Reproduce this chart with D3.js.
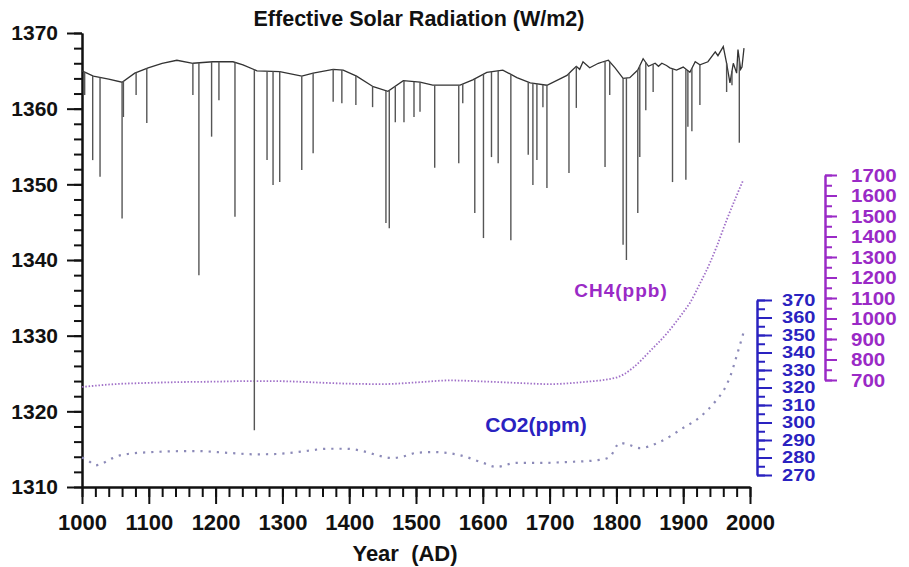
<!DOCTYPE html>
<html>
<head>
<meta charset="utf-8">
<script src="https://cdn.jsdelivr.net/npm/d3@7"></script>
<style>
body { margin: 0; background: #fff; }
text { font-family: "Liberation Sans", Arial, sans-serif; font-weight: bold; }
</style>
</head>
<body>
<svg id="paper"></svg>
<script>
// values
let envYears = [1000, 1017, 1040, 1060, 1079, 1099, 1120, 1142, 1166, 1196, 1226, 1241, 1262, 1296, 1329, 1346, 1376, 1391, 1411, 1436, 1458, 1481, 1506, 1525, 1566, 1585, 1606, 1630, 1651, 1671, 1696, 1726, 1733, 1740, 1745, 1750, 1760, 1773, 1780, 1788, 1798, 1810, 1820, 1832, 1840, 1848, 1858, 1863, 1868, 1875, 1880, 1890, 1900, 1910, 1918, 1925, 1937, 1948, 1952, 1960, 1965, 1970, 1975, 1980, 1982, 1986, 1988, 1991];
let envValues = [1365.0, 1364.3, 1363.9, 1363.5, 1364.7, 1365.4, 1366.0, 1366.4, 1366.0, 1366.2, 1366.2, 1365.8, 1365.0, 1364.9, 1364.3, 1364.7, 1365.2, 1365.1, 1364.3, 1362.9, 1362.3, 1363.7, 1363.5, 1363.1, 1363.1, 1363.8, 1364.8, 1365.1, 1364.1, 1363.4, 1363.1, 1364.4, 1365.0, 1365.6, 1365.2, 1366.2, 1365.4, 1366.0, 1366.2, 1366.4, 1365.4, 1364.0, 1364.1, 1365.1, 1366.6, 1365.6, 1366.0, 1365.6, 1366.0, 1365.7, 1365.4, 1365.1, 1365.5, 1364.8, 1366.2, 1365.8, 1366.2, 1367.5, 1367.0, 1368.2, 1366.0, 1363.4, 1366.0, 1364.7, 1367.8, 1365.2, 1365.5, 1368.0];

// volcanic dips: year and lowest value
let spikeYears = [1004, 1016, 1027, 1060, 1062, 1081, 1097, 1166, 1175, 1194, 1205, 1229, 1258, 1277, 1286, 1296, 1329, 1346, 1376, 1389, 1410, 1435, 1455, 1460, 1469, 1482, 1497, 1506, 1528, 1564, 1570, 1588, 1601, 1613, 1623, 1642, 1668, 1675, 1681, 1690, 1696, 1729, 1740, 1783, 1790, 1810, 1815, 1832, 1835, 1844, 1855, 1884, 1904, 1907, 1913, 1925, 1965, 1973, 1984];
let spikeMins = [1361.8, 1353.2, 1351.0, 1345.5, 1358.9, 1361.8, 1358.1, 1361.8, 1338.0, 1356.3, 1361.1, 1345.7, 1317.5, 1353.2, 1349.9, 1350.3, 1351.9, 1354.1, 1360.9, 1360.7, 1360.5, 1360.2, 1344.9, 1344.2, 1358.2, 1358.2, 1358.9, 1359.6, 1352.2, 1352.8, 1360.7, 1346.2, 1342.9, 1353.6, 1352.8, 1342.6, 1353.9, 1349.9, 1353.2, 1360.2, 1349.5, 1351.5, 1360.1, 1352.3, 1361.8, 1342.0, 1340.0, 1346.2, 1353.6, 1359.8, 1362.2, 1350.3, 1350.6, 1357.6, 1357.0, 1360.5, 1362.2, 1363.1, 1355.5];

let ch4Years = [1000, 1050, 1100, 1150, 1200, 1250, 1300, 1350, 1400, 1450, 1500, 1550, 1600, 1650, 1700, 1750, 1800, 1825, 1850, 1876, 1900, 1910, 1925, 1940, 1950, 1965, 1980, 1990];
let ch4Values = [666, 680, 686, 690, 692, 695, 694, 688, 682, 680, 688, 698, 693, 686, 680, 690, 712, 760, 840, 929, 1030, 1076, 1170, 1271, 1350, 1480, 1600, 1676];

let co2Years = [1000, 1010, 1020, 1030, 1045, 1060, 1100, 1170, 1220, 1260, 1290, 1320, 1370, 1395, 1420, 1445, 1465, 1480, 1500, 1525, 1565, 1600, 1620, 1650, 1685, 1725, 1775, 1790, 1805, 1820, 1835, 1865, 1900, 1925, 1950, 1960, 1970, 1980, 1990];
let co2Values = [280, 278, 275.5, 276.5, 279.5, 281.5, 283, 283.7, 282.6, 281.8, 282, 283, 285, 285, 283.7, 281, 279.7, 280.5, 282.6, 283.1, 281.4, 277, 274.6, 276.9, 276.9, 277.4, 278.6, 280.3, 288.3, 287.1, 285.4, 288.9, 296.9, 303.1, 312.9, 318, 326, 338, 351];

let yearTicks = [1000, 1100, 1200, 1300, 1400, 1500, 1600, 1700, 1800, 1900, 2000];
let solarTicks = [1310, 1320, 1330, 1340, 1350, 1360, 1370];
let ch4Ticks = [700, 800, 900, 1000, 1100, 1200, 1300, 1400, 1500, 1600, 1700];
let co2Ticks = [270, 280, 290, 300, 310, 320, 330, 340, 350, 360, 370];

let width = 909, height = 567;
let ch4Color = "#9a2ac6", co2Color = "#2a22c0";

let svg = d3.select("#paper").attr("width", width).attr("height", height);

let x = d3.scaleLinear().domain([1000, 2000]).range([82, 750]);
let y = d3.scaleLinear().domain([1310, 1370]).range([487, 33]);
let yCH4 = d3.scaleLinear().domain([700, 1700]).range([380, 175]);
let yCO2 = d3.scaleLinear().domain([270, 370]).range([475, 300]);

function styleAxis(g, color, size) {
    g.attr("font-family", "'Liberation Sans', Arial, sans-serif")
        .attr("font-weight", "bold")
        .attr("font-size", size);
    g.selectAll(".domain").attr("stroke", color).attr("stroke-width", 2);
    g.selectAll(".tick line").attr("stroke", color).attr("stroke-width", 2);
    g.selectAll(".tick text").attr("fill", color);
}

// minor ticks first
svg.append("g").attr("transform", "translate(0,487)")
    .call(d3.axisBottom(x).tickValues(d3.range(1000, 2001, 20)).tickSize(10).tickSizeOuter(0).tickFormat(""))
    .call(g => styleAxis(g, "#111", 22));
svg.append("g").attr("transform", "translate(82,0)")
    .call(d3.axisLeft(y).tickValues(d3.range(1310, 1371, 2)).tickSize(8).tickSizeOuter(0).tickFormat(""))
    .call(g => styleAxis(g, "#111", 21));
svg.append("g").attr("transform", "translate(825,0)")
    .call(d3.axisRight(yCH4).tickValues(d3.range(700, 1701, 50)).tickSize(7).tickSizeOuter(0).tickFormat(""))
    .call(g => styleAxis(g, ch4Color, 19));
svg.append("g").attr("transform", "translate(757,0)")
    .call(d3.axisRight(yCO2).tickValues(d3.range(270, 371, 5)).tickSize(8).tickSizeOuter(0).tickFormat(""))
    .call(g => styleAxis(g, co2Color, 17));

// major ticks with labels
svg.append("g").attr("transform", "translate(0,487)")
    .call(d3.axisBottom(x).tickValues(yearTicks).tickSize(17).tickPadding(10).tickSizeOuter(0).tickFormat(d3.format("d")))
    .call(g => styleAxis(g, "#111", 22));
svg.append("g").attr("transform", "translate(82,0)")
    .call(d3.axisLeft(y).tickValues(solarTicks).tickSize(15).tickPadding(9).tickSizeOuter(0).tickFormat(d3.format("d")))
    .call(g => styleAxis(g, "#111", 21));
svg.append("g").attr("transform", "translate(825,0)")
    .call(d3.axisRight(yCH4).tickValues(ch4Ticks).tickSize(12).tickPadding(14).tickSizeOuter(0).tickFormat(d3.format("d")))
    .call(g => styleAxis(g, ch4Color, 19))
    .call(g => g.selectAll(".tick text").attr("x", 0).attr("transform", "translate(26,0) scale(1.08,1)"));
svg.append("g").attr("transform", "translate(757,0)")
    .call(d3.axisRight(yCO2).tickValues(co2Ticks).tickSize(15).tickPadding(10).tickSizeOuter(0).tickFormat(d3.format("d")))
    .call(g => styleAxis(g, co2Color, 17))
    .call(g => g.selectAll(".tick text").attr("x", 0).attr("transform", "translate(25,0) scale(1.18,1)"));

// gas concentration curves
let ch4Line = d3.line().x(d => x(d[0])).y(d => yCH4(d[1])).curve(d3.curveMonotoneX);
svg.append("path")
    .datum(d3.zip(ch4Years, ch4Values))
    .attr("d", ch4Line)
    .attr("fill", "none")
    .attr("stroke", "#a070c8")
    .attr("stroke-width", 1.8)
    .attr("stroke-dasharray", "1.5,1.8");

let co2Line = d3.line().x(d => x(d[0])).y(d => yCO2(d[1])).curve(d3.curveMonotoneX);
svg.append("path")
    .datum(d3.zip(co2Years, co2Values))
    .attr("d", co2Line)
    .attr("fill", "none")
    .attr("stroke", "#8c8ab8")
    .attr("stroke-width", 2.2)
    .attr("stroke-dasharray", "2.2,6");

// solar radiation envelope
let envData = d3.zip(envYears, envValues);
svg.append("path")
    .datum(envData)
    .attr("d", d3.line().x(d => x(d[0])).y(d => y(d[1])))
    .attr("fill", "none")
    .attr("stroke", "#333")
    .attr("stroke-width", 1.3);

// dips hang down from the envelope
let bisect = d3.bisector(d => d[0]).left;
function envAt(yr) {
    let i = Math.max(1, Math.min(envData.length - 1, bisect(envData, yr)));
    let a = envData[i - 1], b = envData[i];
    return a[1] + (b[1] - a[1]) * (yr - a[0]) / (b[0] - a[0]);
}
svg.append("g").selectAll("line")
    .data(d3.zip(spikeYears, spikeMins))
    .enter()
    .append("line")
    .attr("x1", d => x(d[0]))
    .attr("x2", d => x(d[0]))
    .attr("y1", d => y(envAt(d[0])))
    .attr("y2", d => y(d[1]))
    .attr("stroke", "#555")
    .attr("stroke-width", 1.4);

// titles and labels
svg.append("text")
    .attr("x", 419).attr("y", 26)
    .attr("text-anchor", "middle")
    .attr("font-size", 21.5)
    .attr("fill", "#111")
    .text("Effective Solar Radiation (W/m2)");

svg.append("text")
    .attr("x", 405).attr("y", 561)
    .attr("text-anchor", "middle")
    .attr("font-size", 22)
    .attr("fill", "#111")
    .attr("xml:space", "preserve")
    .text("Year  (AD)");

svg.append("text")
    .attr("x", 621).attr("y", 297)
    .attr("text-anchor", "middle")
    .attr("font-size", 19)
    .attr("letter-spacing", 1)
    .attr("fill", ch4Color)
    .text("CH4(ppb)");

svg.append("text")
    .attr("x", 536).attr("y", 432)
    .attr("text-anchor", "middle")
    .attr("font-size", 21)
    .attr("fill", co2Color)
    .text("CO2(ppm)");
</script>
</body>
</html>
